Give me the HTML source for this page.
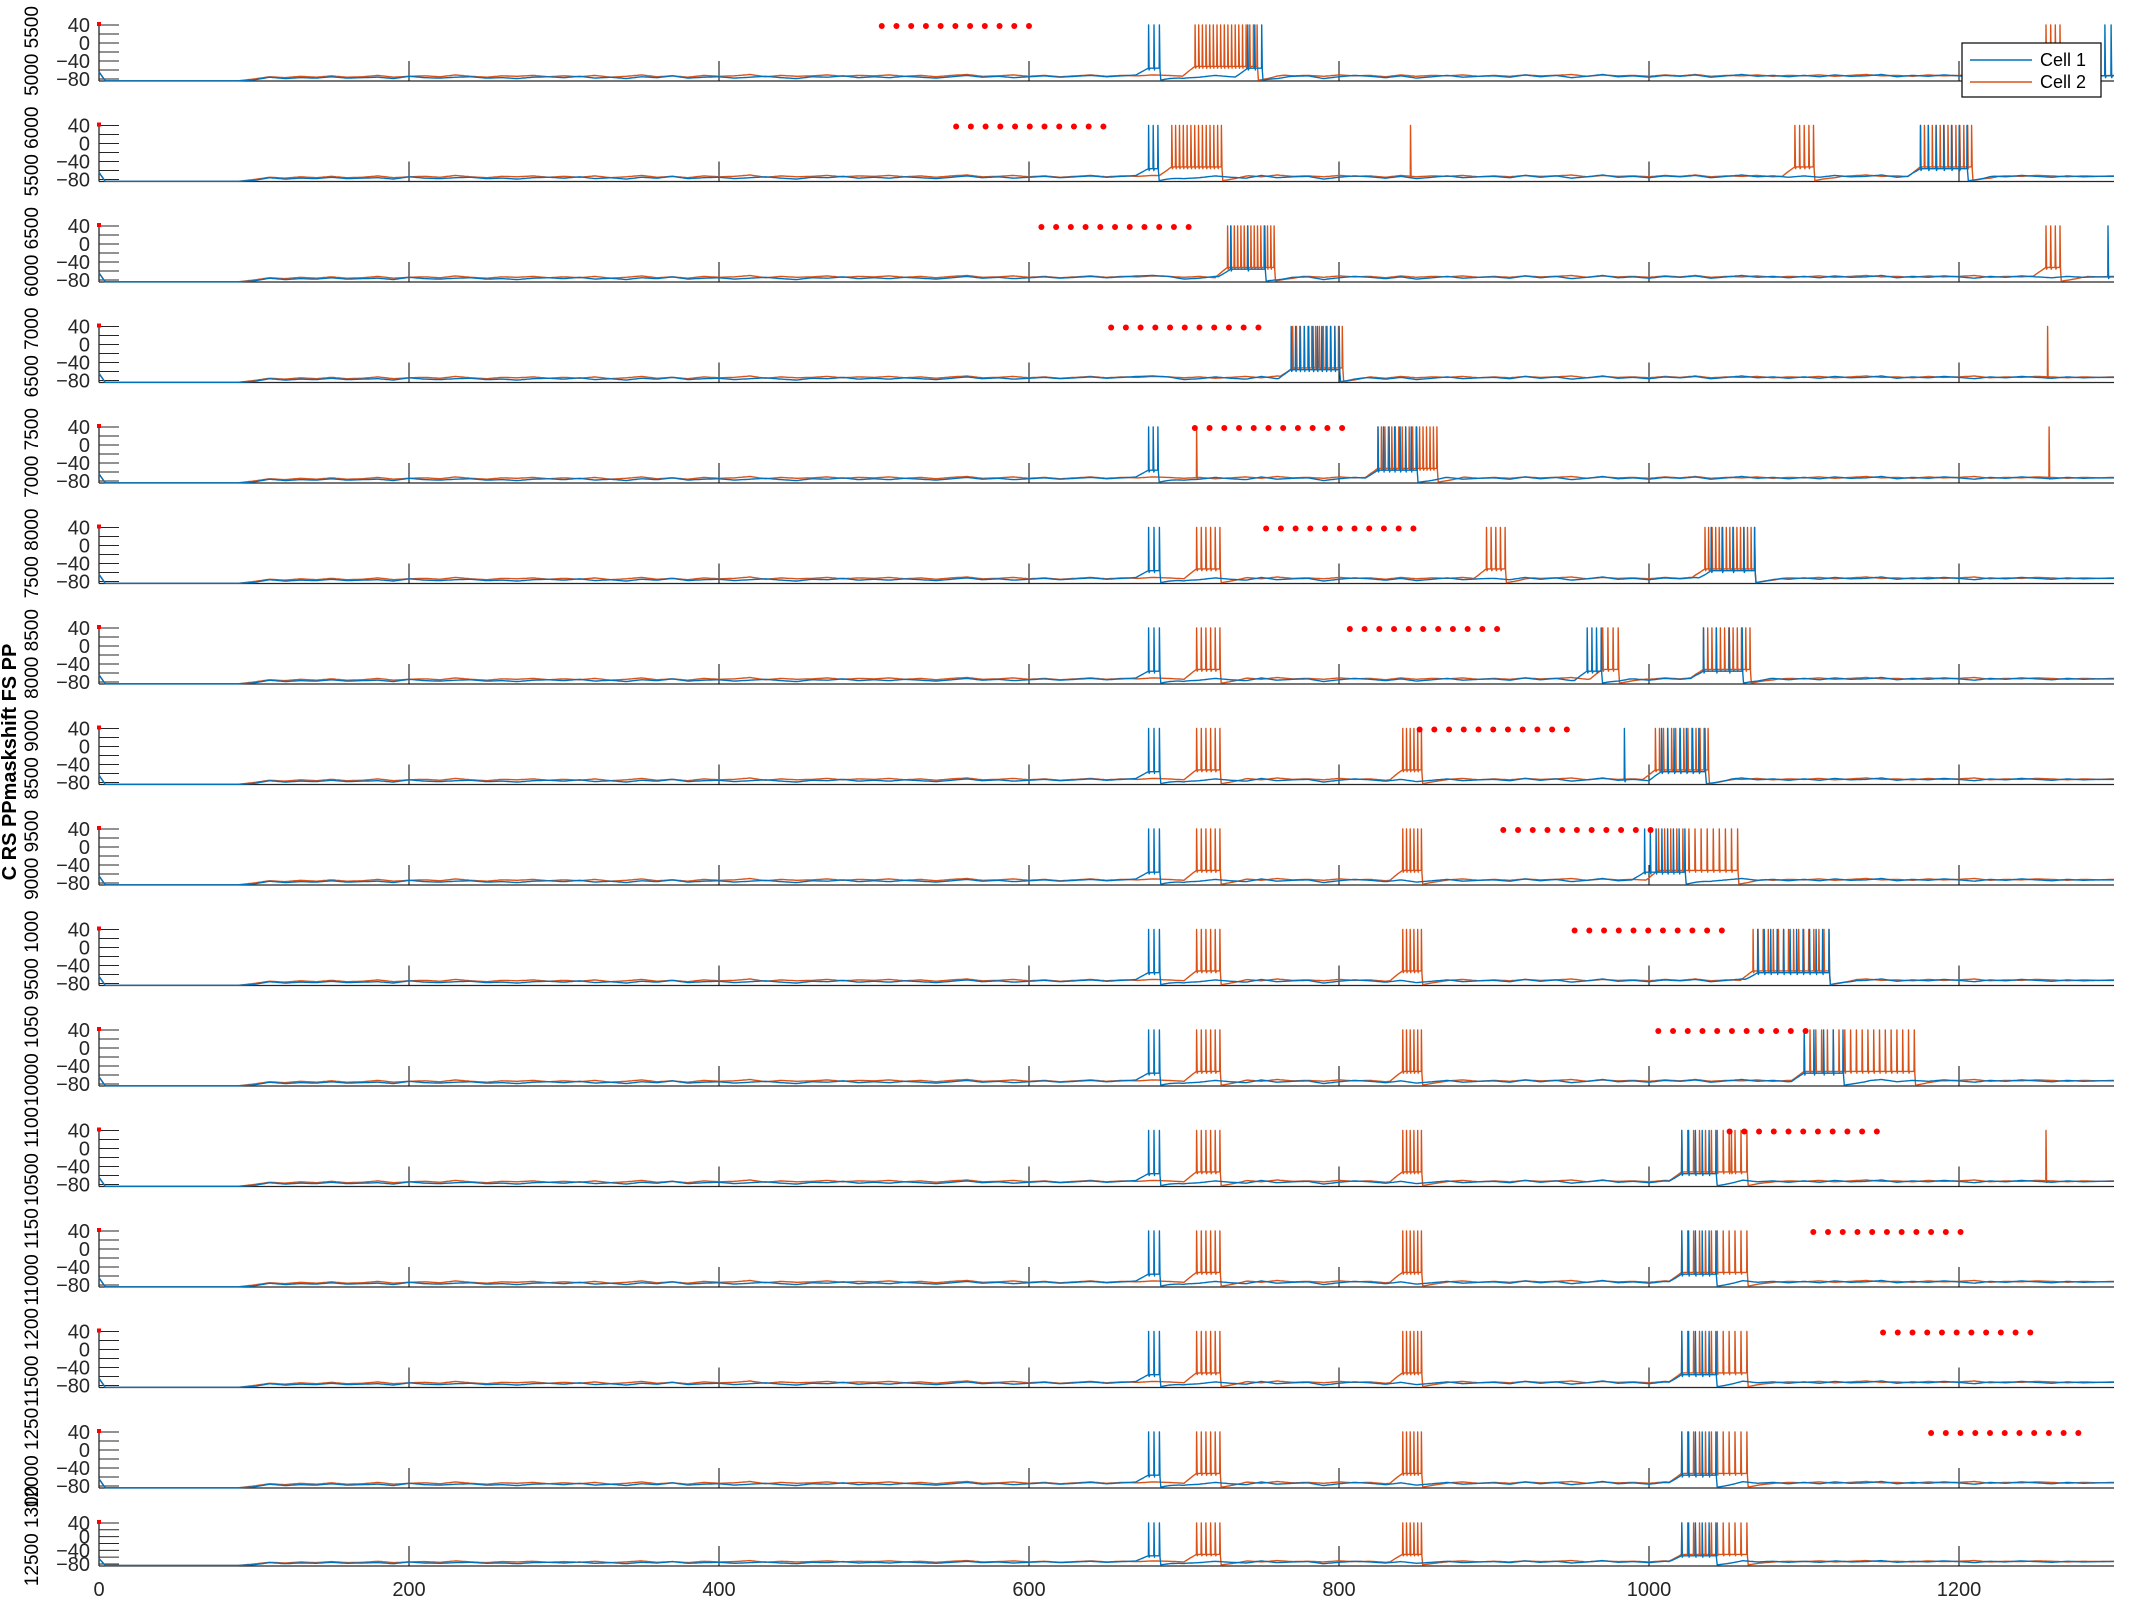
<!DOCTYPE html>
<html><head><meta charset="utf-8"><style>
html,body{margin:0;padding:0;background:#fff;}
svg{display:block;font-family:"Liberation Sans","DejaVu Sans",sans-serif;}
</style></head><body>
<svg id="chart" width="2133" height="1600" viewBox="0 0 2133 1600" xmlns="http://www.w3.org/2000/svg">
<g id="layer"></g>
<text transform="translate(16,762) rotate(-90)" text-anchor="middle" font-size="20" font-weight="bold" fill="#000">C RS PPmaskshift FS PP</text>
<g>
<rect x="1962" y="43" width="139" height="54" fill="#fff" stroke="#000" stroke-width="1.2"/>
<line x1="1970" y1="60" x2="2032" y2="60" stroke="#0072BD" stroke-width="1.5"/>
<text x="2040" y="66" font-size="18" fill="#000">Cell 1</text>
<line x1="1970" y1="82" x2="2032" y2="82" stroke="#D95319" stroke-width="1.5"/>
<text x="2040" y="88" font-size="18" fill="#000">Cell 2</text>
</g>
</svg>
<script>
// ---- data ----
const xTicks = [0,200,400,600,800,1000,1200];
const yTickLabels = [40,0,-40,-80];
const yMinorTicks = [40,20,0,-20,-40,-60,-80];
const stimStart = [505,553,608,653,707,753,807,852,906,952,1006,1052,1106,1151,1182,null];
const stimLength = 95;
// membrane potential every 10 ms
const base1 = [-84,-84,-84,-84,-84,-84,-84,-84,-84,-84,-82,
 -76,-79,-77,-78,-75,-78,-77,-76,-79,-74,-77,-78,-76,-75,-78,-77,-79,-76,-75,
 -77,-74,-78,-76,-79,-75,-77,-73,-78,-76,-75,-78,-76,-74,-77,-79,-75,-76,-73,-77,
 -75,-77,-74,-76,-78,-75,-72,-76,-74,-77,-75,-73,-76,-74,-72,-75,-73,-71,-70,-72,
 -78,-76,-72,-75,-77,-71,-76,-74,-73,-79,-75,-72,-74,-77,-73,-78,-75,-72,-76,-74,
 -73,-76,-71,-75,-72,-77,-74,-70,-75,-73,-76,-72,-74,-71,-76,-73,-70,-74,-72,-75,
 -72,-75,-71,-74,-73,-70,-75,-72,-74,-71,-73,-76,-72,-74,-71,-73,-75,-72,-74,-73,-73];
const base2 = [-84,-84,-84,-84,-84,-84,-84,-84,-84,-84,-80,
 -75,-77,-74,-76,-73,-76,-75,-72,-76,-74,-73,-75,-71,-74,-76,-73,-74,-72,-75,
 -73,-75,-72,-76,-74,-71,-75,-73,-76,-72,-74,-73,-70,-75,-72,-74,-73,-71,-74,-72,
 -73,-71,-74,-72,-75,-72,-70,-74,-73,-71,-74,-72,-75,-73,-71,-74,-72,-73,-71,-72,
 -74,-72,-75,-73,-71,-74,-70,-73,-72,-74,-71,-73,-72,-75,-71,-74,-72,-73,-71,-74,
 -72,-74,-71,-73,-72,-70,-74,-71,-73,-72,-74,-71,-73,-70,-74,-72,-73,-71,-74,-72,
 -73,-71,-74,-72,-70,-73,-72,-74,-71,-73,-72,-70,-74,-72,-73,-71,-72,-74,-72,-73,-72];
// bursts: [cell, start, end, spikeCount]
const commonB = [[1,677,684,3],[2,708,723,6]];
const commonC = [[1,677,684,3],[2,708,723,6],[2,841,853,6]];
const commonD = [[1,677,684,3],[2,708,723,6],[2,841,853,6],[1,1021,1043,6],[2,1021,1063,12]];
const bursts = [
  [[1,677,684,3],[2,707,747,18],[1,741,750,3],[2,1256,1265,4],[1,1294,1298,2]],
  [[1,677,683,3],[2,692,724,14],[2,846,846,1],[2,1094,1106,5],[1,1175,1205,7],[2,1175,1208,14]],
  [[2,728,758,15],[1,730,752,3],[2,1256,1265,4],[1,1296,1296,1]],
  [[1,769,800,12],[2,770,802,14],[2,1257,1257,1]],
  [[1,677,683,3],[2,708,708,1],[2,825,863,18],[1,825,850,8],[2,1258,1258,1]],
  commonB.concat([[2,895,907,5],[2,1036,1068,15],[1,1040,1068,5]]),
  commonB.concat([[1,960,969,4],[2,970,980,4],[2,1035,1065,12],[1,1035,1060,4]]),
  commonC.concat([[1,984,984,1],[2,1004,1038,14],[1,1008,1036,8]]),
  commonC.concat([[1,997,1023,8],[2,1006,1057,14]]),
  commonC.concat([[2,1067,1116,16],[1,1070,1116,12]]),
  commonC.concat([[2,1100,1171,20],[1,1100,1125,5]]),
  commonD.concat([[2,1053,1053,1],[2,1256,1256,1]]),
  commonD, commonD, commonD, commonD
];
// ---- geometry ----
const NS = "http://www.w3.org/2000/svg";
const layer = document.getElementById('layer');
const X0 = 99, XS = 1.55;
function xPos(t){ return X0 + t*XS; }
function panelBase(i){ return i < 15 ? 81 + 100.5*i : 1566; }
function panelScale(i){ return i < 15 ? 0.45 : 0.342; }
function yPos(i, v){ return panelBase(i) - 2 - (v + 80)*panelScale(i); }
function mk(tag, attrs){ const e = document.createElementNS(NS, tag); for (const k in attrs) e.setAttribute(k, attrs[k]); return e; }
function baseVal(arr, t){
  if (t < 4) return -64 - 5*t;
  const f = t/10, i = Math.floor(f), r = f - i;
  const a = arr[Math.min(i, arr.length-1)], b = arr[Math.min(i+1, arr.length-1)];
  return a + (b-a)*r;
}
function trace(i, cell){
  const arr = cell === 1 ? base1 : base2;
  const bs = bursts[i].filter(b => b[0] === cell);
  const spikes = [];
  bs.forEach(b => { const n = b[3]; for (let k=0;k<n;k++) spikes.push(n===1 ? b[1] : b[1] + (b[2]-b[1])*k/(n-1)); });
  spikes.sort((a,b)=>a-b);
  function v(t){
    let val = baseVal(arr, t);
    bs.forEach(b => {
      if (b[3] < 3) return;
      const plateau = cell === 2 ? -52 : -56;
      if (t >= b[1]-8 && t <= b[2]) { const w = Math.min(1, (t-b[1]+8)/8); val = val + (plateau - val)*w; }
      else if (t > b[2] && t < b[2]+18) { const w = (t-b[2])/18; val = -83 + (val + 83)*w; }
    });
    return Math.max(-84, val);
  }
  const pts = [];
  let si = 0;
  for (let t=0; t<=1300; t+=1){
    while (si < spikes.length && spikes[si] < t){
      const s = spikes[si];
      pts.push([s, v(s)], [s+0.15, 40], [s+0.5, v(s)-4]);
      si++;
    }
    pts.push([t, v(t)]);
  }
  return pts.map(p => xPos(p[0]).toFixed(1)+','+yPos(i,p[1]).toFixed(1)).join(' ');
}
const labelStacks = ["5000 5500","5500 6000","6000 6500","6500 7000","7000 7500","7500 8000","8000 8500","8500 9000","9000 9500","9500 1000","10000 1050","10500 1100","11000 1150","11500 1200","12000 1250","12500 1300"];
for (let i=0;i<16;i++){
  const g = mk('g', {});
  
  
  layer.appendChild(g);
  const base = panelBase(i);
  const lt = mk('text', {transform:`translate(38,${base-30}) rotate(-90)`, 'text-anchor':'middle', 'font-size':'19', fill:'#000'});
  
  
  lt.textContent = labelStacks[i];
  g.appendChild(lt);
  const xl = mk('line', {x1:X0, y1:base, x2:xPos(1300), y2:base, stroke:'#262626', 'stroke-width':'1.3'});
  
  
  g.appendChild(xl);
  const yl = mk('line', {x1:X0, y1:yPos(i,44), x2:X0, y2:base, stroke:'#262626', 'stroke-width':'1.3'});
  
  
  g.appendChild(yl);
  yMinorTicks.forEach(v => {
    const tl = mk('line', {x1:X0, y1:yPos(i,v), x2:X0+20, y2:yPos(i,v), stroke:'#262626', 'stroke-width':'1'});
    
    
    g.appendChild(tl);
  });
  yTickLabels.forEach(v => {
    const tx = mk('text', {x:X0-9, y:yPos(i,v)+7, 'text-anchor':'end', 'font-size':'20', fill:'#262626'});
    
    
    tx.textContent = v < 0 ? '\u2212' + (-v) : String(v);
    g.appendChild(tx);
  });
  xTicks.forEach(t => {
    if (t === 0) return;
    const tl = mk('line', {x1:xPos(t), y1:base, x2:xPos(t), y2:base-20, stroke:'#000', 'stroke-width':'1'});
    
    
    g.appendChild(tl);
  });
  const rd = mk('rect', {x:X0-2, y:yPos(i,40)-3, width:4, height:4, fill:'#ff0000'});
  
  
  g.appendChild(rd);
  [2,1].forEach(cell => {
    const pl = mk('polyline', {points:trace(i,cell), fill:'none', stroke: cell===1 ? '#0072BD' : '#D95319', 'stroke-width':'1.4', 'stroke-linejoin':'round'});
    
    
    g.appendChild(pl);
  });
  if (stimStart[i] !== null){
    for (let k=0;k<11;k++){
      const t = stimStart[i] + k*stimLength/10;
      if (t > 1300) break;
      const c = mk('circle', {cx:xPos(t), cy:yPos(i,40)+1, r:3, fill:'#ff0000'});
      
      
      g.appendChild(c);
    }
  }
}
xTicks.forEach(t => {
  const tx = mk('text', {x:xPos(t), y:1596, 'text-anchor':'middle', 'font-size':'20', fill:'#262626'});
  
  
  tx.textContent = String(t);
  layer.appendChild(tx);
});
</script>
</body></html>
